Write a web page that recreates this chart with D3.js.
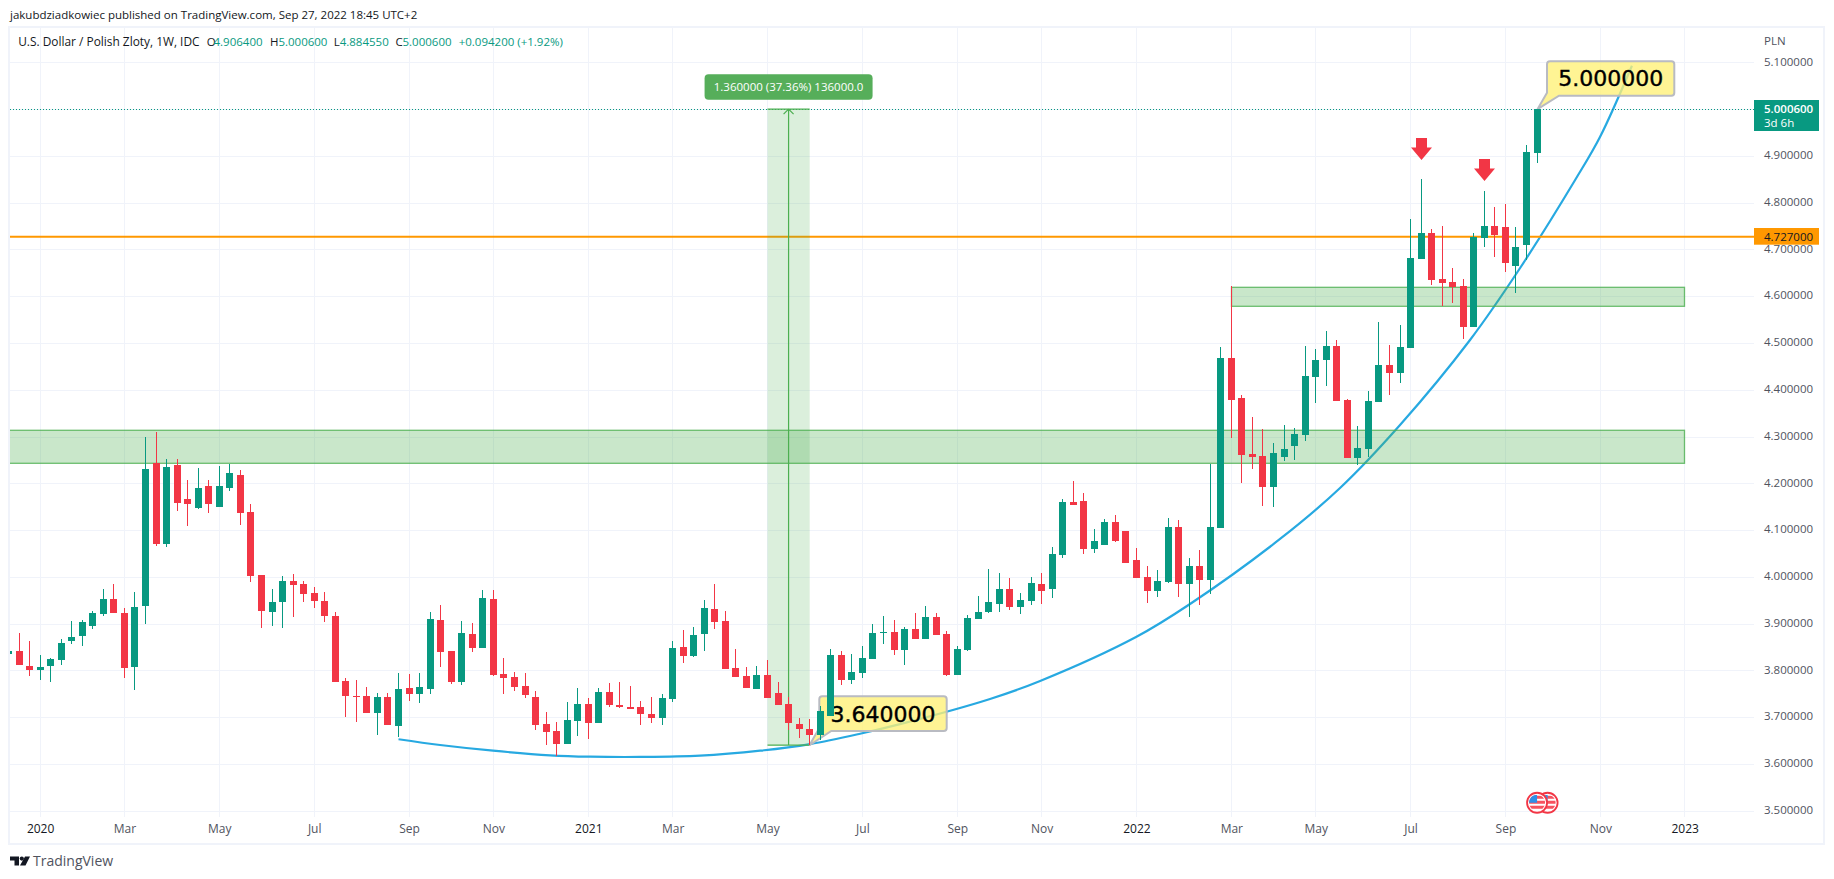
<!DOCTYPE html>
<html>
<head>
<meta charset="utf-8">
<title>USDPLN</title>
<script src="https://cdn.jsdelivr.net/npm/d3@7"></script>
<style>
    html, body { margin: 0; padding: 0; background: #fff; }
    svg { display: block; }
    text { font-family: "Open Sans", sans-serif; font-size: 11.5px; fill: #131722; }
</style>
</head>
<body>
<svg id="chart" width="1834" height="879"></svg>
<script>
// weekly candles, first one is cut off by the left edge of the pane
var opens = [3.8351, 3.8415, 3.8095, 3.8009, 3.8095, 3.8223, 3.8629, 3.8736, 3.895, 3.9206, 3.9527, 3.9228, 3.8073,
    3.9377, 4.2435, 4.0703, 4.2392, 4.1665, 4.1473, 4.1943, 4.1494, 4.19, 4.2178, 4.1387, 4.004, 3.9249, 3.9463, 3.9912,
    3.9848, 3.9655, 3.9484, 3.9164, 3.7774, 3.7453, 3.7453, 3.709, 3.7432, 3.6812, 3.7624, 3.7496, 3.7603, 3.9078, 3.8415,
    3.7753, 3.8779, 3.848, 3.9527, 3.7924, 3.786, 3.7667, 3.7432, 3.6855, 3.6705, 3.6427, 3.6919, 3.7282, 3.6876, 3.7539,
    3.7261, 3.7218, 3.7218, 3.7068, 3.6983, 3.7389, 3.8501, 3.8309, 3.8779, 3.9313, 3.9057, 3.8052, 3.7881, 3.7603, 3.7902,
    3.7517, 3.7282, 3.6855, 3.6748, 3.6619, 3.7026, 3.833, 3.7795, 3.7945, 3.8244, 3.8808, 3.8822, 3.8437, 3.8886, 3.8672,
    3.9142, 3.8779, 3.7902, 3.8437, 3.91, 3.9249, 3.942, 3.9741, 3.9356, 3.9484, 3.9848, 3.9741, 4.0468, 4.1601, 4.1622,
    4.0596, 4.0682, 4.1173, 4.0981, 4.0361, 3.9998, 3.9698, 3.9891, 4.1067, 3.9848, 4.0233, 3.9933, 4.1045, 4.468, 4.3825,
    4.2627, 4.2584, 4.1922, 4.2563, 4.2798, 4.3033, 4.4274, 4.4637, 4.4936, 4.3782, 4.2542, 4.2734, 4.3739, 4.453, 4.4359,
    4.4894, 4.6797, 4.7353, 4.6369, 4.6305, 4.6219, 4.5343, 4.7246, 4.7502, 4.7481, 4.6647, 4.7096, 4.9064];
var highs = [3.843, 3.88, 3.8629, 3.833, 3.8266, 3.8672, 3.9057, 3.9078, 3.9271, 3.9741, 3.9848, 3.9335, 3.9677,
    4.2991, 4.3098, 4.2521, 4.2521, 4.2071, 4.2328, 4.2071, 4.2371, 4.2414, 4.2285, 4.1558, 4.004, 3.9741, 4.0019, 4.0062,
    3.9912, 3.9784, 3.9677, 3.9249, 3.7838, 3.7795, 3.7646, 3.7517, 3.7517, 3.7945, 3.7924, 3.7945, 3.9249, 3.9399, 3.8415,
    3.9057, 3.9014, 3.972, 3.972, 3.8266, 3.7966, 3.7945, 3.756, 3.7111, 3.6897, 3.7325, 3.7624, 3.7411, 3.7624, 3.7731,
    3.7753, 3.7667, 3.7346, 3.7432, 3.7496, 3.8629, 3.8864, 3.8929, 3.9506, 3.9848, 3.9271, 3.8458, 3.8073, 3.8095, 3.8223,
    3.7753, 3.7432, 3.6983, 3.6962, 3.7239, 3.8458, 3.8415, 3.8351, 3.8522, 3.8993, 3.9164, 3.9078, 3.8928, 3.9228, 3.9377,
    3.9228, 3.8843, 3.8522, 3.9185, 3.9591, 4.0169, 4.0083, 3.9976, 3.9655, 3.9998, 4.0083, 4.0639, 4.1665, 4.205, 4.1794,
    4.1024, 4.1238, 4.1323, 4.0981, 4.0618, 4.0233, 4.0147, 4.1259, 4.1216, 4.0404, 4.0575, 4.2414, 4.4915, 4.6219, 4.3889,
    4.3418, 4.3162, 4.2862, 4.3247, 4.3183, 4.4936, 4.4872, 4.5257, 4.5065, 4.3803, 4.3226, 4.3974, 4.545, 4.4958, 4.5385,
    4.7652, 4.8507, 4.7438, 4.7502, 4.6604, 4.6369, 4.7353, 4.8251, 4.7909, 4.7973, 4.7481, 4.9234, 5.0006];
var lows = [3.8351, 3.8116, 3.7881, 3.7795, 3.7752, 3.8116, 3.8565, 3.8522, 3.8886, 3.9164, 3.9228, 3.7838, 3.7582,
    3.8993, 4.066, 4.0639, 4.1409, 4.1088, 4.1451, 4.1366, 4.1494, 4.1836, 4.1109, 3.9891, 3.8907, 3.895, 3.8907, 3.9142,
    3.9463, 3.9335, 3.9035, 3.7752, 3.7004, 3.6897, 3.709, 3.6619, 3.6833, 3.6569, 3.7346, 3.7304, 3.7496, 3.8073, 3.771,
    3.7688, 3.8394, 3.848, 3.7881, 3.7496, 3.756, 3.7411, 3.6726, 3.6406, 3.617, 3.6427, 3.6598, 3.6534, 3.6876, 3.7218,
    3.7197, 3.7175, 3.6833, 3.6876, 3.6833, 3.7325, 3.8159, 3.8287, 3.8415, 3.8886, 3.8031, 3.786, 3.7624, 3.7603, 3.7411,
    3.7261, 3.6726, 3.6555, 3.64, 3.6512, 3.7026, 3.7688, 3.771, 3.7838, 3.8244, 3.8565, 3.833, 3.8116, 3.8672, 3.8672,
    3.8757, 3.7881, 3.7902, 3.8415, 3.91, 3.9228, 3.9249, 3.9292, 3.9206, 3.9399, 3.942, 3.9549, 4.0404, 4.1537, 4.0489,
    4.0511, 4.0682, 4.0746, 4.0297, 3.9976, 3.9442, 3.957, 3.9869, 3.957, 3.9142, 3.9399, 3.9634, 4.1045, 4.2969, 4.2007,
    4.2307, 4.1515, 4.1494, 4.2478, 4.2499, 4.2905, 4.3718, 4.4081, 4.376, 4.2542, 4.2392, 4.2563, 4.3739, 4.3889, 4.4145,
    4.4894, 4.6797, 4.6241, 4.5792, 4.5856, 4.5086, 4.5343, 4.7053, 4.6839, 4.6519, 4.607, 4.6775, 4.88455];
var closes = [3.8415, 3.8116, 3.8009, 3.8073, 3.8244, 3.8586, 3.8715, 3.9035, 3.9228, 3.9527, 3.9228, 3.8052, 3.9356,
    4.2307, 4.0703, 4.2349, 4.158, 4.1558, 4.19, 4.1558, 4.1943, 4.2221, 4.1366, 4.0019, 3.9271, 3.9463, 3.9912, 3.9826,
    3.9634, 3.9484, 3.9164, 3.7752, 3.7453, 3.7439, 3.709, 3.7432, 3.6833, 3.7603, 3.7496, 3.7646, 3.91, 3.8394, 3.7752,
    3.88, 3.848, 3.9549, 3.7902, 3.7838, 3.7646, 3.7475, 3.6833, 3.6684, 3.6427, 3.694, 3.7282, 3.6876, 3.7539, 3.7261,
    3.7218, 3.7175, 3.7068, 3.6983, 3.7411, 3.848, 3.8309, 3.8757, 3.9335, 3.9035, 3.8031, 3.786, 3.7624, 3.7902, 3.7411,
    3.7261, 3.6876, 3.6748, 3.6619, 3.7133, 3.833, 3.7795, 3.7966, 3.8266, 3.88, 3.8822, 3.8437, 3.8886, 3.8672, 3.9142,
    3.8757, 3.7902, 3.8458, 3.9121, 3.9249, 3.9463, 3.9741, 3.9356, 3.9506, 3.9869, 3.9698, 4.0489, 4.1601, 4.1537, 4.0596,
    4.0767, 4.1173, 4.0767, 4.0297, 3.9976, 3.9698, 3.9912, 4.1067, 3.9848, 4.0233, 3.9933, 4.1067, 4.468, 4.3782, 4.2606,
    4.2563, 4.1922, 4.2649, 4.2734, 4.3055, 4.4295, 4.4637, 4.4936, 4.376, 4.2542, 4.2756, 4.376, 4.453, 4.4359, 4.4915,
    4.6818, 4.7353, 4.6348, 4.6284, 4.6198, 4.5343, 4.7267, 4.7502, 4.731, 4.6711, 4.7053, 4.9084, 5.0006];

var timeTickBars = [3, 11, 20, 29, 38, 46, 55, 63, 72, 81, 90, 98, 107, 116, 124, 133, 142, 151, 159];
var timeTickLabels = ["2020", "Mar", "May", "Jul", "Sep", "Nov", "2021", "Mar", "May", "Jul", "Sep", "Nov", "2022", "Mar", "May", "Jul", "Sep", "Nov", "2023"];
var priceGrid = [3.5, 3.6, 3.7, 3.8, 3.9, 4.0, 4.1, 4.2, 4.3, 4.4, 4.5, 4.6, 4.7, 4.8, 4.9, 5.0, 5.1];
var priceTicks = [3.5, 3.6, 3.7, 3.8, 3.9, 4.0, 4.1, 4.2, 4.3, 4.4, 4.5, 4.6, 4.7, 4.8, 4.9, 5.1];

// hand drawn curve under the lows
var curveBars = [37, 40.94, 45.97, 51.38, 55.17, 59.92, 65.6, 71.3, 76.04, 80.78, 84.57, 93.11, 97.86, 106.96,
    112.08, 120.62, 126.31, 132, 138.64, 143.39, 148.61, 150.98, 154];
var curvePrices = [3.6527, 3.6405, 3.6283, 3.6185, 3.6155, 3.6149, 3.6176, 3.6283, 3.6425, 3.6645, 3.685, 3.7389, 3.7774,
    3.8714, 3.942, 4.081, 4.19, 4.3247, 4.5065, 4.6604, 4.8486, 4.9411, 5.0929];

var zoneTop = [4.3134, 4.6191];
var zoneBottom = [4.2428, 4.5785];
var zoneStartBar = [0, 116];
var zoneEndBar = 159;

var measureBars = [72, 76];
var measurePrices = [3.64, 5.0];
var measureText = "1.360000 (37.36%) 136000.0";

var noteBars = [145, 76];
var notePrices = [5.0, 3.64];
var noteTexts = ["5.000000", "3.640000"];

var arrowBars = [134, 140];
var arrowPrices = [4.8913, 4.8464];

var levelPrice = 4.727;
var lastPrice = 5.0006;
var flagBars = [146, 145];
var flagPrice = 3.517;

var legendItems = [
    ["U.S. Dollar / Polish Zloty, 1W, IDC", 18.2, "#131722", 11.9],
    ["O", 206.8, "#131722", 11.5], ["4.906400", 213.5, "#089981", 11.5],
    ["H", 270, "#131722", 11.5], ["5.000600", 278.4, "#089981", 11.5],
    ["L", 333.7, "#131722", 11.5], ["4.884550", 339.7, "#089981", 11.5],
    ["C", 395.4, "#131722", 11.5], ["5.000600", 402.5, "#089981", 11.5],
    ["+0.094200 (+1.92%)", 458.7, "#089981", 11.5]
];

var up = "#089981", down = "#f23645", zoneGreen = "#4caf50";
var paneLeft = 10, paneRight = 1754, paneTop = 28, paneBottom = 815;

var svg = d3.select("#chart");

var x = d3.scaleLinear().domain([3, 159]).range([40.1, 1684.65]);
var y = d3.scaleLinear().domain([3.5, 5.1]).range([810.7, 62.4]);

function px(i) {
    return Math.floor(x(i)) + 0.5;
}

svg.append("defs").append("clipPath").attr("id", "pane")
    .append("rect")
    .attr("x", paneLeft).attr("y", paneTop)
    .attr("width", paneRight - paneLeft).attr("height", paneBottom - paneTop);

// outer frame
svg.append("rect")
    .attr("x", 9).attr("y", 27).attr("width", 1815).attr("height", 817)
    .attr("fill", "none").attr("stroke", "#f0f3fa").attr("stroke-width", 2);

svg.append("text").attr("x", 10).attr("y", 19).text("jakubdziadkowiec published on TradingView.com, Sep 27, 2022 18:45 UTC+2");

// grid
var grid = svg.append("g").attr("stroke", "#f0f3fa").attr("shape-rendering", "crispEdges");
grid.selectAll(".h").data(priceGrid).enter().append("line")
    .attr("x1", paneLeft).attr("x2", paneRight)
    .attr("y1", d => Math.round(y(d)) + 0.5).attr("y2", d => Math.round(y(d)) + 0.5);
grid.selectAll(".v").data(timeTickBars).enter().append("line")
    .attr("x1", px).attr("x2", px)
    .attr("y1", paneTop).attr("y2", paneBottom + 2);

var pane = svg.append("g").attr("clip-path", "url(#pane)");

// curve
var curveLine = d3.line()
    .x((d, i) => x(curveBars[i]))
    .y(d => y(d))
    .curve(d3.curveCatmullRom);

pane.append("path")
    .attr("d", curveLine(curvePrices))
    .attr("fill", "none").attr("stroke", "#27a9e1").attr("stroke-width", 2.2);

// green zones
pane.selectAll(".zone").data(zoneTop).enter().append("rect")
    .attr("x", (d, i) => zoneStartBar[i] == 0 ? paneLeft - 2 : px(zoneStartBar[i]))
    .attr("y", d => y(d))
    .attr("width", (d, i) => px(zoneEndBar) - (zoneStartBar[i] == 0 ? paneLeft - 2 : px(zoneStartBar[i])))
    .attr("height", (d, i) => y(zoneBottom[i]) - y(d))
    .attr("fill", zoneGreen).attr("fill-opacity", 0.3)
    .attr("stroke", zoneGreen).attr("stroke-opacity", 0.8).attr("stroke-width", 1.3);

// price lines
pane.append("line")
    .attr("x1", paneLeft).attr("x2", paneRight)
    .attr("y1", Math.round(y(lastPrice)) + 0.5).attr("y2", Math.round(y(lastPrice)) + 0.5)
    .attr("stroke", up).attr("stroke-dasharray", "1 2");

pane.append("line")
    .attr("x1", paneLeft).attr("x2", paneRight)
    .attr("y1", y(levelPrice)).attr("y2", y(levelPrice))
    .attr("stroke", "#ff9800").attr("stroke-width", 2);

// measure tool
var mx0 = x(measureBars[0]), mx1 = x(measureBars[1]), mxc = (mx0 + mx1) / 2;
var my0 = y(measurePrices[0]), my1 = y(measurePrices[1]);
pane.append("rect")
    .attr("x", mx0).attr("y", my1).attr("width", mx1 - mx0).attr("height", my0 - my1)
    .attr("fill", zoneGreen).attr("fill-opacity", 0.2);
pane.append("path")
    .attr("d", "M" + mx0 + "," + my0 + "H" + mx1 + "M" + mx0 + "," + my1 + "H" + mx1 + "M" + mxc + "," + my0 + "V" + my1
        + "M" + (mxc - 5) + "," + (my1 + 5) + "L" + mxc + "," + my1 + "L" + (mxc + 5) + "," + (my1 + 5))
    .attr("fill", "none").attr("stroke", zoneGreen).attr("stroke-width", 1.2);
pane.append("rect")
    .attr("x", mxc - 84).attr("y", my1 - 35).attr("width", 168).attr("height", 25.5).attr("rx", 4)
    .attr("fill", "#56ae5a");
pane.append("text")
    .attr("x", mxc).attr("y", my1 - 18).attr("text-anchor", "middle")
    .style("fill", "#fff").text(measureText);

// yellow notes, the tail ends on the marked candle
var noteBox = [[9.5, -48, 127.3, 34.5], [9.8, -49, 127.4, 34.7]];
noteTexts.forEach((t, i) => {
    var tipX = px(noteBars[i]), tipY = y(notePrices[i]), b = noteBox[i];
    var left = tipX + b[0], top = tipY + b[1], w = b[2], h = b[3];
    var g = pane.append("g");
    g.append("path")
        .attr("d", "M" + (left + 3) + "," + top + "H" + (left + w - 3) + "Q" + (left + w) + "," + top + " " + (left + w) + "," + (top + 3)
            + "V" + (top + h - 3) + "Q" + (left + w) + "," + (top + h) + " " + (left + w - 3) + "," + (top + h)
            + "H" + (left + 12) + "L" + tipX + "," + tipY + "L" + left + "," + (top + h - 3)
            + "V" + (top + 3) + "Q" + left + "," + top + " " + (left + 3) + "," + top + "Z")
        .attr("fill", "#fff176").attr("fill-opacity", 0.78)
        .attr("stroke", "#b9bbc2").attr("stroke-width", 2);
    g.append("text")
        .attr("x", left + w / 2).attr("y", top + h / 2 + 8).attr("text-anchor", "middle")
        .style("font-family", "DejaVu Sans").style("font-size", "22px").style("fill", "#000")
        .style("stroke", "#000").style("stroke-width", 0.4)
        .text(t);
});

// candles
var candles = pane.append("g").attr("shape-rendering", "crispEdges");
opens.forEach((o, i) => {
    var c = closes[i];
    var color = c >= o ? up : down;
    var left = Math.floor(x(i));
    var top = Math.round(y(Math.max(o, c)));
    var bottom = Math.round(y(Math.min(o, c)));
    var wickTop = Math.round(y(highs[i]));
    var wickBottom = Math.round(y(lows[i]));
    candles.append("rect")
        .attr("x", left).attr("y", wickTop).attr("width", 1).attr("height", Math.max(wickBottom - wickTop, 1))
        .attr("fill", color);
    candles.append("rect")
        .attr("x", left - 3).attr("y", top).attr("width", 7).attr("height", Math.max(bottom - top, 1))
        .attr("fill", color);
});

// red arrows
pane.selectAll(".arrow").data(arrowPrices).enter().append("path")
    .attr("transform", (d, i) => "translate(" + px(arrowBars[i]) + "," + y(d) + ")")
    .attr("d", "M0,0L-10.5,-12.5H-5.5V-22H5.5V-12.5H10.5Z")
    .attr("fill", down);

// events, two round US flags
var defs = svg.select("defs");
flagBars.forEach((b, i) => {
    var fx = x(b), fy = y(flagPrice);
    var id = "flag" + i;
    defs.append("clipPath").attr("id", id).append("circle").attr("cx", fx).attr("cy", fy).attr("r", 8);
    var g = svg.append("g");
    g.append("circle").attr("cx", fx).attr("cy", fy).attr("r", 10).attr("fill", "#fff").attr("stroke", down).attr("stroke-width", 1.8);
    var f = g.append("g").attr("clip-path", "url(#" + id + ")");
    f.append("rect").attr("x", fx - 9).attr("y", fy - 8).attr("width", 18).attr("height", 16).attr("fill", "#fff");
    [-7, -2, 3].forEach(s => {
        f.append("rect").attr("x", fx - 9).attr("y", fy + s).attr("width", 18).attr("height", 3).attr("fill", "#f7525f");
    });
    f.append("rect").attr("x", fx - 9).attr("y", fy - 8).attr("width", 9).attr("height", 8).attr("fill", "#2f8fe8");
});

// axes
var timeAxis = d3.axisBottom(x)
    .tickValues(timeTickBars)
    .tickFormat((d, i) => timeTickLabels[i])
    .tickSize(0).tickPadding(9);

var tg = svg.append("g").attr("transform", "translate(0," + paneBottom + ")").call(timeAxis);
tg.select(".domain").remove();
tg.selectAll("text")
    .style("font-size", "12px")
    .style("fill", (d, i) => /^20/.test(timeTickLabels[i]) ? "#131722" : "#50535e")
    .style("font-weight", (d, i) => /^20/.test(timeTickLabels[i]) ? 500 : 400);

var priceAxis = d3.axisRight(y)
    .tickValues(priceTicks)
    .tickFormat(d3.format(".6f"))
    .tickSize(0).tickPadding(0);

var pg = svg.append("g").attr("transform", "translate(1764,-1)").call(priceAxis);
pg.select(".domain").remove();
pg.selectAll("text").style("fill", "#50535e");

svg.append("text").attr("x", 1764).attr("y", 45).text("PLN").style("fill", "#50535e");

// price tags
svg.append("rect").attr("x", 1754).attr("y", 100).attr("width", 65).attr("height", 31).attr("fill", up);
svg.append("text").attr("x", 1764).attr("y", 112.5).style("fill", "#fff").style("font-weight", 600).text(d3.format(".6f")(lastPrice));
svg.append("text").attr("x", 1764).attr("y", 127).style("fill", "#fff").text("3d 6h");

svg.append("rect").attr("x", 1754).attr("y", 228).attr("width", 65).attr("height", 16.7).attr("fill", "#ff9800");
svg.append("text").attr("x", 1764).attr("y", 241).text(d3.format(".6f")(levelPrice));

// legend
svg.selectAll(".legend").data(legendItems).enter().append("text")
    .attr("x", d => d[1]).attr("y", 46)
    .style("fill", d => d[2])
    .style("font-size", d => d[3] + "px")
    .text(d => d[0]);

// footer logo
var logo = svg.append("g").attr("fill", "#131722");
logo.append("path").attr("d", "M10,856.5H19V865.5H14.5V860.5H10Z");
logo.append("circle").attr("cx", 21.8).attr("cy", 858.6).attr("r", 2.1);
logo.append("path").attr("d", "M25,856.5H30L25.5,865.5H20Z");
svg.append("text").attr("x", 33).attr("y", 866).style("font-size", "14px").style("fill", "#50535e").text("TradingView");
</script>
</body>
</html>
